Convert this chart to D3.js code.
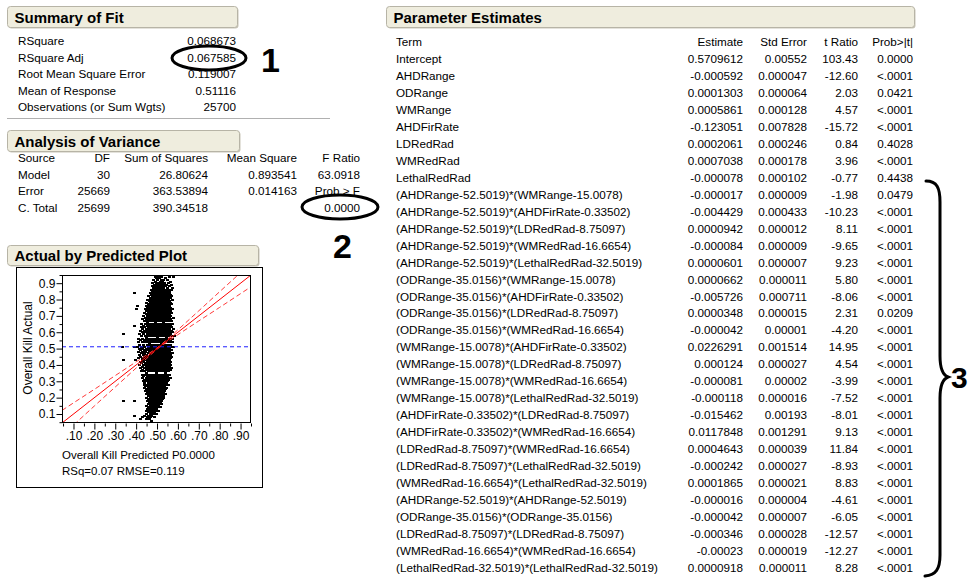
<!DOCTYPE html>
<html><head><meta charset="utf-8">
<script src="https://cdn.jsdelivr.net/npm/d3@7/dist/d3.min.js"></script>
<style>
body{margin:0;background:#fff}
svg{display:block}
text{font-family:"Liberation Sans",Arial,Helvetica,sans-serif;fill:#000}
</style>
</head><body>
<svg id="c" width="979" height="579"></svg>
<script>
// ---------------- data ----------------
const fitLabels = ["RSquare","RSquare Adj","Root Mean Square Error","Mean of Response","Observations (or Sum Wgts)"];
const fitValues = ["0.068673","0.067585","0.119007","0.51116","25700"];

const anovaHeaders = ["Source","DF","Sum of Squares","Mean Square","F Ratio"];
const anovaSources = ["Model","Error","C. Total"];
const anovaDF = ["30","25669","25699"];
const anovaSS = ["26.80624","363.53894","390.34518"];
const anovaMS = ["0.893541","0.014163",""];
const anovaF = ["63.0918","Prob > F","0.0000"];

const paramHeaders = ["Term","Estimate","Std Error","t Ratio","Prob>|t|"];
const terms = ["Intercept","AHDRange","ODRange","WMRange","AHDFirRate","LDRedRad","WMRedRad","LethalRedRad",
"(AHDRange-52.5019)*(WMRange-15.0078)",
"(AHDRange-52.5019)*(AHDFirRate-0.33502)",
"(AHDRange-52.5019)*(LDRedRad-8.75097)",
"(AHDRange-52.5019)*(WMRedRad-16.6654)",
"(AHDRange-52.5019)*(LethalRedRad-32.5019)",
"(ODRange-35.0156)*(WMRange-15.0078)",
"(ODRange-35.0156)*(AHDFirRate-0.33502)",
"(ODRange-35.0156)*(LDRedRad-8.75097)",
"(ODRange-35.0156)*(WMRedRad-16.6654)",
"(WMRange-15.0078)*(AHDFirRate-0.33502)",
"(WMRange-15.0078)*(LDRedRad-8.75097)",
"(WMRange-15.0078)*(WMRedRad-16.6654)",
"(WMRange-15.0078)*(LethalRedRad-32.5019)",
"(AHDFirRate-0.33502)*(LDRedRad-8.75097)",
"(AHDFirRate-0.33502)*(WMRedRad-16.6654)",
"(LDRedRad-8.75097)*(WMRedRad-16.6654)",
"(LDRedRad-8.75097)*(LethalRedRad-32.5019)",
"(WMRedRad-16.6654)*(LethalRedRad-32.5019)",
"(AHDRange-52.5019)*(AHDRange-52.5019)",
"(ODRange-35.0156)*(ODRange-35.0156)",
"(LDRedRad-8.75097)*(LDRedRad-8.75097)",
"(WMRedRad-16.6654)*(WMRedRad-16.6654)",
"(LethalRedRad-32.5019)*(LethalRedRad-32.5019)"];
const estimates = ["0.5709612","-0.000592","0.0001303","0.0005861","-0.123051","0.0002061","0.0007038","-0.000078",
"-0.000017","-0.004429","0.0000942","-0.000084","0.0000601","0.0000662","-0.005726","0.0000348","-0.000042",
"0.0226291","0.000124","-0.000081","-0.000118","-0.015462","0.0117848","0.0004643","-0.000242","0.0001865",
"-0.000016","-0.000042","-0.000346","-0.00023","0.0000918"];
const stdErrors = ["0.00552","0.000047","0.000064","0.000128","0.007828","0.000246","0.000178","0.000102",
"0.000009","0.000433","0.000012","0.000009","0.000007","0.000011","0.000711","0.000015","0.00001",
"0.001514","0.000027","0.00002","0.000016","0.00193","0.001291","0.000039","0.000027","0.000021",
"0.000004","0.000007","0.000028","0.000019","0.000011"];
const tRatios = ["103.43","-12.60","2.03","4.57","-15.72","0.84","3.96","-0.77",
"-1.98","-10.23","8.11","-9.65","9.23","5.80","-8.06","2.31","-4.20",
"14.95","4.54","-3.99","-7.52","-8.01","9.13","11.84","-8.93","8.83",
"-4.61","-6.05","-12.57","-12.27","8.28"];
const probs = ["0.0000","<.0001","0.0421","<.0001","<.0001","0.4028","<.0001","0.4438",
"0.0479","<.0001","<.0001","<.0001","<.0001","<.0001","<.0001","0.0209","<.0001",
"<.0001","<.0001","<.0001","<.0001","<.0001","<.0001","<.0001","<.0001","<.0001",
"<.0001","<.0001","<.0001","<.0001","<.0001"];

// Actual by Predicted plot
const xTicks = [0.10,0.20,0.30,0.40,0.50,0.60,0.70,0.80,0.90];
const xTickLabels = [".10",".20",".30",".40",".50",".60",".70",".80",".90"];
const xMinorTicks = [0.05,0.15,0.25,0.35,0.45,0.55,0.65,0.75,0.85,0.95];
const yTicks = [0.1,0.2,0.3,0.4,0.5,0.6,0.7,0.8,0.9];
const yTickLabels = ["0.1","0.2","0.3","0.4","0.5","0.6","0.7","0.8","0.9"];
const yMinorTicks = [0.05,0.15,0.25,0.35,0.45,0.55,0.65,0.75,0.85,0.95];
const meanResponse = 0.51116;
const fitLineX = [0.045, 0.95];
const fitLineY = [0.045, 0.95];
const confX     = [0.045, 0.10, 0.20, 0.30, 0.40, 0.45, 0.50, 0.511, 0.55, 0.60, 0.70, 0.80, 0.90, 0.95];
const confUpper = [0.122, 0.168, 0.251, 0.335, 0.419, 0.461, 0.504, 0.515, 0.558, 0.615, 0.731, 0.848, 0.964, 1.022];
const confLower = [-0.032,0.032, 0.149, 0.265, 0.381, 0.439, 0.496, 0.507, 0.542, 0.585, 0.669, 0.752, 0.836, 0.878];
// rows: [actual (hundredths), predicted values (thousandths)]
const scatterRows = [
[95,[497,512,531,549]],
[94,[488,504,521,556,578]],
[93,[495,509,538]],
[92,[483,501,517,529,547]],
[91,[490,512,524,561]],
[90,[478,496,507,519,533,552]],
[89,[486,499,514,527,541,568]],
[88,[474,489,503,511,522,536,557]],
[87,[481,494,506,518,531,546,571]],
[86,[469,485,497,509,516,528,539,552,566]],
[85,[476,490,501,513,524,535,548,559]],
[84,[391,464,479,493,505,511,520,532,544,557]],
[83,[471,484,496,508,517,527,538,551,563]],
[82,[458,475,488,499,510,521,531,542,555,568]],
[81,[466,480,492,503,514,525,536,549,560]],
[80,[452,468,482,494,505,516,527,539,552,574]],
[79,[461,474,487,498,509,520,532,545,558]],
[78,[448,465,478,490,501,512,523,535,547,561]],
[77,[457,471,484,496,507,518,529,541,554,569]],
[76,[402,445,461,475,488,499,510,521,533,546,559]],
[75,[453,467,480,492,503,514,526,538,550,563]],
[74,[398,441,458,472,485,497,508,519,531,543,556,572]],
[73,[449,463,477,489,501,512,524,536,548,561]],
[72,[437,455,469,482,494,505,516,528,540,553,567]],
[71,[446,460,474,487,499,510,521,533,545,558]],
[70,[433,451,466,479,491,502,513,525,537,550,564]],
[69,[442,457,471,484,496,507,518,530,542,555,575]],
[68,[429,447,462,476,488,500,511,522,534,547,560]],
[67,[438,454,468,481,493,504,515,527,539,552,566]],
[66,[452,489,531]],
[65,[425,443,459,473,486,498,509,520,532,544,557,571]],
[64,[389,434,450,465,478,490,501,512,524,536,549,563]],
[63,[421,439,456,470,483,495,506,517,529,541,554,568]],
[62,[430,447,462,476,488,499,510,522,534,546,559,577]],
[61,[418,436,453,467,480,492,503,515,527,539,551,565]],
[60,[427,444,459,473,485,496,507,519,531,543,556,572]],
[59,[335,414,433,450,465,478,490,501,512,524,536,548,561]],
[58,[423,441,457,470,482,494,505,516,528,540,553,567,579]],
[57,[446,498,541]],
[56,[411,429,446,462,475,487,499,510,521,533,545,558,574]],
[55,[420,437,453,468,481,493,504,515,527,539,551,564]],
[54,[408,426,443,459,473,485,497,508,519,531,543,556,571]],
[53,[461,517]],
[52,[416,434,450,465,478,490,501,512,524,536,548,561]],
[51,[334,392,405,422,439,455,469,482,494,505,513,526,538,550,563,576]],
[50,[413,430,447,462,476,488,499,510,522,534,546,559]],
[49,[419,436,452,467,480,492,503,515,527,539,552,568]],
[48,[410,427,444,460,474,487,498,509,520,532,544,557]],
[47,[423,440,456,470,483,495,506,518,530,542,555,571]],
[46,[414,432,449,464,477,489,500,511,523,535,548,562]],
[45,[420,437,453,468,481,493,504,516,528,540,553,566]],
[44,[411,429,446,461,475,487,498,509,521,533,546,560]],
[43,[336,393,426,443,458,472,485,496,508,519,531,544,557]],
[42,[417,434,450,465,479,491,502,513,525,537,550,564]],
[41,[424,441,456,470,483,495,506,518,530,542,555]],
[40,[415,432,448,463,477,489,500,511,523,535,548,561]],
[39,[428,445,460,474,487,498,509,521,533,546,558]],
[38,[419,436,452,467,480,492,503,515,527,539,552,567]],
[37,[430,447,462,476,489,500,511,523,535,548,560]],
[36,[422,439,455,469,482,494,505,517,529,541,554]],
[35,[448,497,536]],
[34,[426,443,458,472,485,496,508,519,531,543,556]],
[33,[433,450,465,478,490,501,513,525,537,549]],
[32,[429,446,461,475,487,498,510,522,534,547,563]],
[31,[437,453,468,481,493,504,516,528,540,552]],
[30,[432,449,463,477,489,500,512,524,536,549]],
[29,[440,456,470,483,495,507,519,531,544]],
[28,[436,452,466,479,491,502,514,526,538,553]],
[27,[444,459,473,486,498,510,522,535]],
[26,[439,455,469,482,494,505,517,529,542]],
[25,[447,462,476,489,501,513,526,539]],
[24,[443,458,472,485,497,509,521,534]],
[23,[451,466,479,492,504,516,529]],
[22,[446,461,475,488,500,512,525,537]],
[21,[455,469,482,494,506,519,531]],
[20,[449,464,478,491,503,515,528]],
[19,[458,472,485,497,509,522]],
[18,[335,392,452,467,481,493,505,518]],
[17,[461,475,488,500,512]],
[16,[455,470,484,496,508,521]],
[15,[448,464,478,491,503]],
[14,[458,473,487,499,514]],
[13,[451,467,482,495]],
[12,[445,461,476,490,506]],
[11,[455,470,485]],
[10,[448,466,479,497]],
[9,[391,439,458,473]],
[8,[429,452,468,487]],
[7,[418,446,462]],
[6,[472]]
];

// ---------------- drawing ----------------
const svg = d3.select("#c");
const FS = 11.7;

function header(x, y, w, h, title){
  const g = svg.append("g");
  g.append("rect").attr("x",x+1).attr("y",y+1).attr("width",w).attr("height",h).attr("rx",3)
    .attr("fill","#c9c6b8");
  g.append("rect").attr("x",x).attr("y",y).attr("width",w).attr("height",h).attr("rx",3)
    .attr("fill","#efedde").attr("stroke","#b7b4a6").attr("stroke-width",1);
  g.append("text").attr("x",x+7).attr("y",y+h-5).attr("font-size",15).attr("font-weight","bold").text(title);
}

// Summary of Fit
header(7.5, 6.5, 230, 21, "Summary of Fit");
const fitRow = d3.scaleLinear().domain([0,4]).range([41,107.4]);
svg.append("g").selectAll("text").data(fitLabels).join("text")
  .attr("x",18).attr("y",(d,i)=>fitRow(i)+4).attr("font-size",FS).text(d=>d);
svg.append("g").selectAll("text").data(fitValues).join("text")
  .attr("x",236).attr("y",(d,i)=>fitRow(i)+4).attr("font-size",FS).attr("text-anchor","end").text(d=>d);
svg.append("line").attr("x1",7).attr("x2",330).attr("y1",118.5).attr("y2",118.5).attr("stroke","#b0b0b0");

// Analysis of Variance
header(7.5, 130.5, 232, 21, "Analysis of Variance");
const anRow = d3.scaleLinear().domain([0,3]).range([158,207.5]);
const anCols = [{x:18,a:"start"},{x:110,a:"end"},{x:208,a:"end"},{x:297,a:"end"},{x:360,a:"end"}];
const anData = [anovaHeaders].concat(anovaSources.map((s,i)=>[s,anovaDF[i],anovaSS[i],anovaMS[i],anovaF[i]]));
anData.forEach((row,ri)=>{
  row.forEach((v,ci)=>{
    svg.append("text").attr("x",anCols[ci].x).attr("y",anRow(ri)+4).attr("font-size",FS)
      .attr("text-anchor",anCols[ci].a).text(v);
  });
});

// Actual by Predicted Plot
header(7.5, 245.5, 251, 20, "Actual by Predicted Plot");
svg.append("rect").attr("x",16.5).attr("y",267.5).attr("width",246).attr("height",220)
  .attr("fill","#fff").attr("stroke","#000");
const x = d3.scaleLinear().domain([0.045,0.95]).range([62,251]);
const y = d3.scaleLinear().domain([0.045,0.95]).range([423,275]);
const pg = svg.append("g");
pg.append("clipPath").attr("id","pclip").append("rect")
  .attr("x",62).attr("y",275).attr("width",189).attr("height",148);
const inner = pg.append("g").attr("clip-path","url(#pclip)");

// scatter
const pts = [];
scatterRows.forEach(r=>r[1].forEach(v=>pts.push([v/1000, r[0]/100])));
inner.append("g").attr("shape-rendering","crispEdges")
  .selectAll("rect").data(pts).join("rect")
  .attr("x",d=>Math.round(x(d[0]))-1).attr("y",d=>Math.round(y(d[1]))-1)
  .attr("width",3).attr("height",2).attr("fill","#000");

// mean line
inner.append("line").attr("x1",x(0.045)).attr("x2",x(0.95)).attr("y1",y(meanResponse)).attr("y2",y(meanResponse))
  .attr("stroke","#2020ff").attr("stroke-width",1).attr("stroke-dasharray","4,3");
// confidence curves
const line = d3.line().x(d=>x(d[0])).y(d=>y(d[1])).curve(d3.curveMonotoneX);
[confUpper, confLower].forEach(arr=>{
  inner.append("path").attr("d",line(confX.map((v,i)=>[v,arr[i]])))
    .attr("fill","none").attr("stroke","#ff3a3a").attr("stroke-width",1).attr("stroke-dasharray","5,3");
});
// fit line
inner.append("path").attr("d",line(fitLineX.map((v,i)=>[v,fitLineY[i]])))
  .attr("fill","none").attr("stroke","#ff0000").attr("stroke-width",1);

// frame
pg.append("rect").attr("x",62.5).attr("y",275.5).attr("width",188).attr("height",147)
  .attr("fill","none").attr("stroke","#000");

// axes
const yAx = pg.append("g").attr("transform","translate(62.5,0)")
  .call(d3.axisLeft(y).tickValues(yTicks).tickSize(6).tickFormat((d,i)=>yTickLabels[i]));
const yAxm = pg.append("g").attr("transform","translate(62.5,0)")
  .call(d3.axisLeft(y).tickValues(yMinorTicks).tickSize(3).tickFormat(""));
const xAx = pg.append("g").attr("transform","translate(0,423.5)")
  .call(d3.axisBottom(x).tickValues(xTicks).tickSize(6).tickFormat((d,i)=>xTickLabels[i]));
const xAxm = pg.append("g").attr("transform","translate(0,423.5)")
  .call(d3.axisBottom(x).tickValues(xMinorTicks).tickSize(3).tickFormat(""));
[yAx,yAxm,xAx,xAxm].forEach(g=>{
  g.select(".domain").remove();
  g.selectAll("text").attr("font-family","Liberation Sans, Arial, sans-serif").attr("font-size",12).attr("fill","#000");
  g.selectAll("line").attr("stroke","#000");
});
yAx.selectAll("text").attr("x",-7);
xAx.selectAll("text").attr("y",8);

pg.append("text").attr("transform","translate(32,348) rotate(-90)").attr("text-anchor","middle")
  .attr("font-size",12).text("Overall Kill Actual");
pg.append("text").attr("x",62).attr("y",459).attr("font-size",11.5).text("Overall Kill Predicted P0.0000");
pg.append("text").attr("x",62).attr("y",475).attr("font-size",11.5).text("RSq=0.07 RMSE=0.119");

// Parameter Estimates
header(386.5, 6.5, 528, 21, "Parameter Estimates");
const pRow = d3.scaleLinear().domain([0,31]).range([42,568]);
const pCols = [{x:396,a:"start"},{x:743,a:"end"},{x:807,a:"end"},{x:858,a:"end"},{x:913,a:"end"}];
const pData = [paramHeaders].concat(terms.map((t,i)=>[t,estimates[i],stdErrors[i],tRatios[i],probs[i]]));
pData.forEach((row,ri)=>{
  row.forEach((v,ci)=>{
    svg.append("text").attr("x",pCols[ci].x).attr("y",pRow(ri)+4).attr("font-size",FS)
      .attr("text-anchor",pCols[ci].a).text(v);
  });
});

// annotations
svg.append("ellipse").attr("cx",209).attr("cy",58).attr("rx",37).attr("ry",12)
  .attr("fill","none").attr("stroke","#000").attr("stroke-width",3);
svg.append("text").attr("x",261).attr("y",72).attr("font-size",34).attr("font-weight","bold").text("1");
svg.append("ellipse").attr("cx",340).attr("cy",207).attr("rx",38).attr("ry",12)
  .attr("fill","none").attr("stroke","#000").attr("stroke-width",3);
svg.append("text").attr("x",333).attr("y",258).attr("font-size",34).attr("font-weight","bold").text("2");
svg.append("path")
  .attr("d","M926,181 C937,181 940,188 940,202 L940,356 C940,370 943,375 948,377 C943,379 940,385 940,398 L940,555 C940,569 936,575 925,576")
  .attr("fill","none").attr("stroke","#000").attr("stroke-width",3).attr("stroke-linecap","round");
svg.append("text").attr("x",951).attr("y",388).attr("font-size",30).attr("font-weight","bold").text("3");
</script>
</body></html>
